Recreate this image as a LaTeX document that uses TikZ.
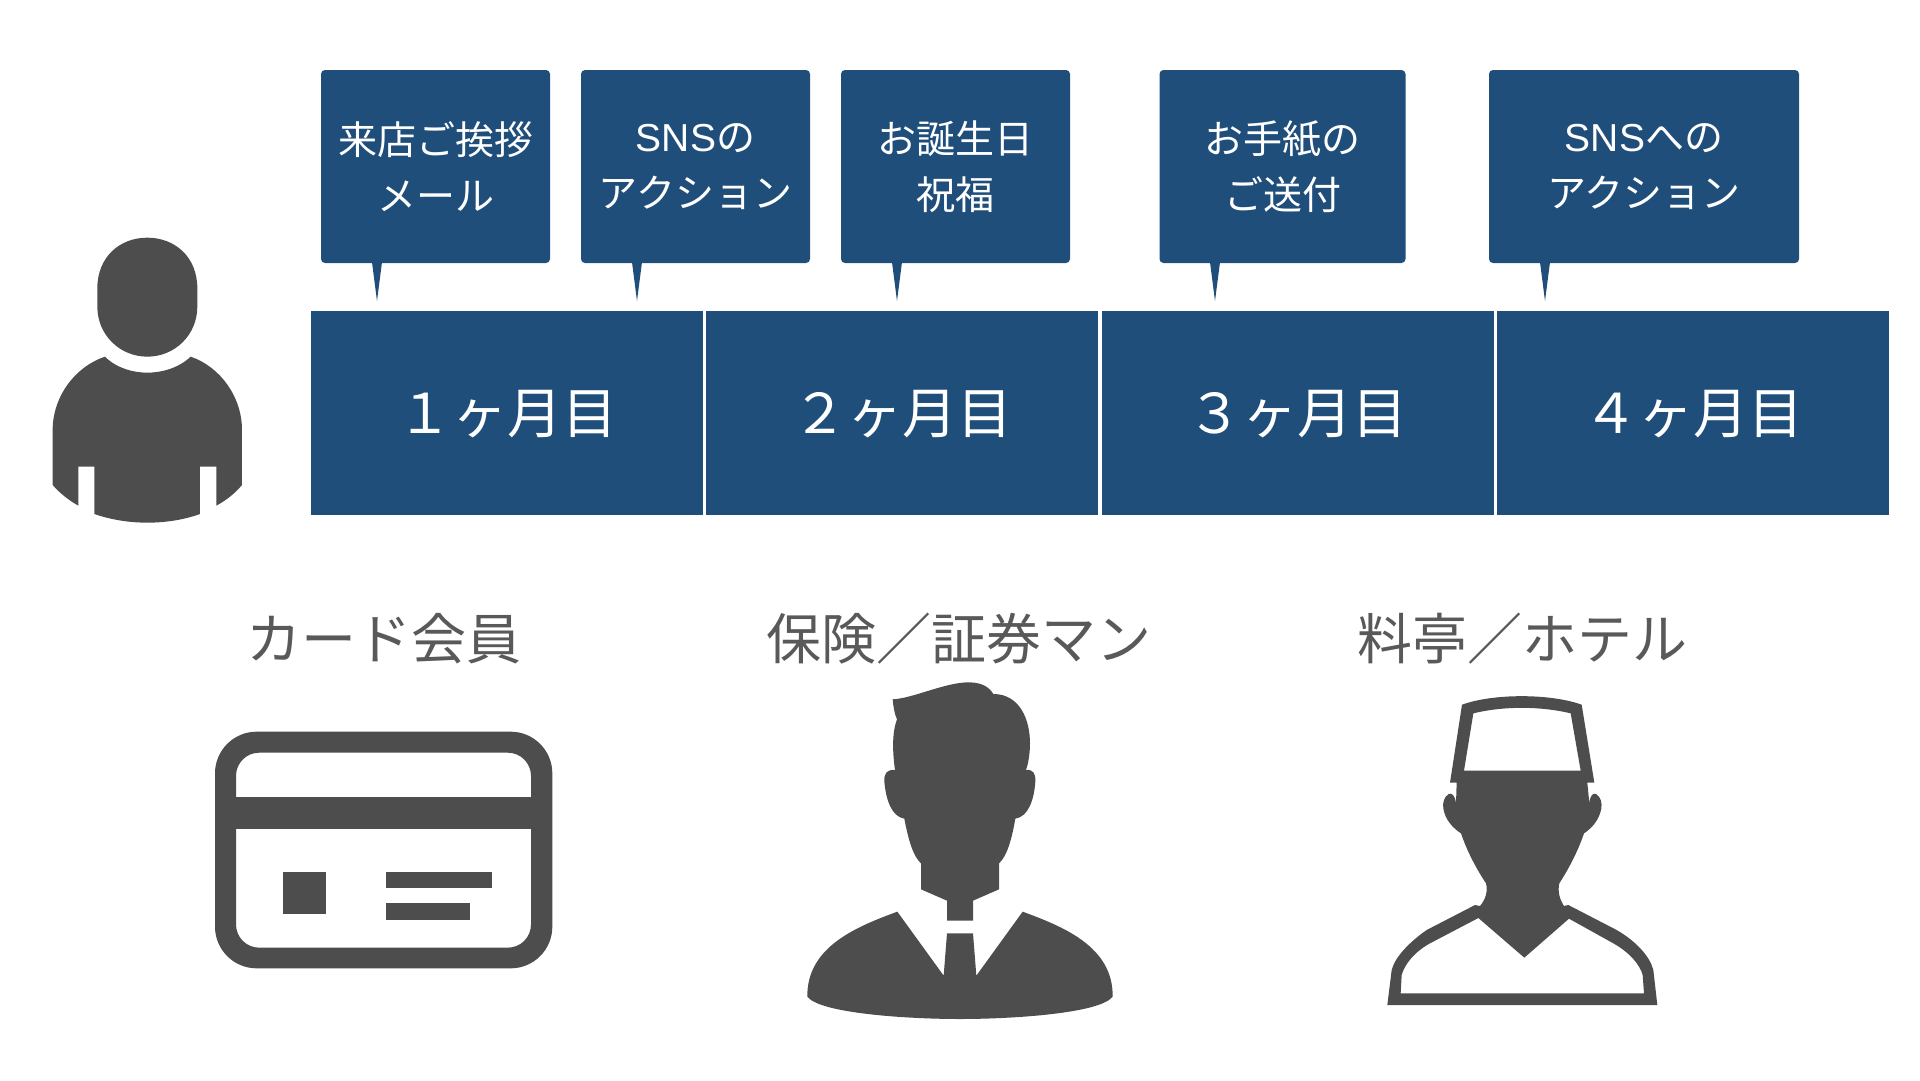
\documentclass[tikz,border=0pt]{standalone}
\usepackage{fontspec}
\setmainfont{Noto Sans CJK JP}
\newfontfamily\latinfont{Liberation Sans}
\usepackage{tikz}
\usetikzlibrary{positioning}
\definecolor{navy}{HTML}{1F4E7B}
\definecolor{icongray}{HTML}{4D4D4D}
\definecolor{labelgray}{HTML}{595959}
\tikzset{
  monthbar/.style={fill=navy,text=white,minimum width=392pt,minimum height=204pt,inner sep=0pt,
    text height=40pt,text depth=0pt,font=\fontsize{55}{60}\selectfont},
  bubble/.style={fill=navy,text=white,rounded corners=4pt,minimum height=193pt,inner sep=0pt,
    align=center,font=\fontsize{39}{56.5}\selectfont},
  tail/.style={fill=navy},
  grouplabel/.style={text=labelgray,inner sep=0pt,font=\fontsize{55}{60}\selectfont},
  icon/.style={fill=icongray,even odd rule}
}
\begin{document}
\begin{tikzpicture}[x=1pt,y=-1pt]
\useasboundingbox (0,0) rectangle (1920,1080);
% timeline
\node[monthbar] (m1) at (507,413) {１ヶ月目};
\node[monthbar,right=3pt of m1] (m2) {２ヶ月目};
\node[monthbar,right=3pt of m2] (m3) {３ヶ月目};
\node[monthbar,right=3pt of m3] (m4) {４ヶ月目};
% bubbles
\node[bubble,minimum width=229pt] (bubble1) at (435.5,166.5) {来店ご挨拶\\メール};
\node[bubble,minimum width=229pt] (bubble2) at (695.5,166.5) {{\latinfont SNS}の\\アクション};
\node[bubble,minimum width=229pt] (bubble3) at (955.5,166.5) {お誕生日\\祝福};
\node[bubble,minimum width=246pt] (bubble4) at (1282.5,166.5) {お手紙の\\ご送付};
\node[bubble,minimum width=310pt] (bubble5) at (1644,166.5) {{\latinfont SNS}への\\アクション};
\foreach \i/\tipx in {1/377,2/637,3/897,4/1215,5/1545} {
  \coordinate (tip\i) at (\tipx,301);
  \coordinate (base\i) at (tip\i|-bubble\i.south);
  \fill[tail] ([xshift=-5pt,yshift=1pt]base\i) -- (tip\i) -- ([xshift=5pt,yshift=1pt]base\i) -- cycle;
}
% labels
\node[grouplabel] (card label) at (384,639) {カード会員};
\node[grouplabel] (broker label) at (958.5,639) {保険／証券マン};
\node[grouplabel] (ryotei label) at (1522.5,639) {料亭／ホテル};
% customer
\begin{scope}[shift={(0,200)},scale=1/3]
\fill[icon] (292,265) .. controls (292,170) and (360,113) .. (442,113)
  .. controls (524,113) and (592,170) .. (592,265) -- (592,320)
  .. controls (592,405) and (524,470) .. (442,470)
  .. controls (360,470) and (292,405) .. (292,320) -- cycle;
\fill[icon] (315,470) .. controls (350,505) and (400,518) .. (442,518)
  .. controls (484,518) and (535,505) .. (572,470)
  .. controls (660,500) and (726,590) .. (726,690) -- (726,855)
  .. controls (705,880) and (680,900) .. (649,917) -- (649,800) -- (600,800) -- (600,942)
  .. controls (550,960) and (495,968) .. (442,968)
  .. controls (390,968) and (335,960) .. (283,942) -- (283,800) -- (235,800) -- (235,917)
  .. controls (205,900) and (180,880) .. (158,855) -- (158,690)
  .. controls (158,590) and (225,500) .. (315,470) -- cycle;
\end{scope}
% card
\begin{scope}[shift={(200,720)},scale=1/3]
\fill[icon] (170,35) -- (932,35) .. controls (1001,35) and (1057,91) .. (1057,160) -- (1057,620)
  .. controls (1057,689) and (1001,745) .. (932,745) -- (170,745)
  .. controls (101,745) and (45,689) .. (45,620) -- (45,160)
  .. controls (45,91) and (101,35) .. (170,35) -- cycle
  (178,98) .. controls (139,98) and (108,129) .. (108,168) -- (108,613)
  .. controls (108,652) and (139,683) .. (178,683) -- (923,683)
  .. controls (962,683) and (993,652) .. (993,613) -- (993,168)
  .. controls (993,129) and (962,98) .. (923,98) -- cycle;
\fill[icon] (100,232) rectangle (1000,327);
\fill[icon] (250,455) rectangle (377,583);
\fill[icon] (558,455) rectangle (875,505);
\fill[icon] (558,550) rectangle (811,600);
\end{scope}
% broker
\begin{scope}[shift={(780,670)},scale=1/3]
\fill[icon] (338,88) .. controls (400,85) and (500,35) .. (570,37)
  .. controls (610,38) and (630,55) .. (640,72)
  .. controls (720,72) and (750,150) .. (750,220)
  .. controls (750,250) and (745,280) .. (738,300)
  .. controls (760,298) and (767,310) .. (766,335)
  .. controls (762,390) and (745,440) .. (706,446)
  .. controls (695,510) and (680,560) .. (657,580)
  -- (657,658) -- (579,692) -- (579,752) -- (501,752) -- (501,692) -- (423,658) -- (423,580)
  .. controls (400,560) and (385,510) .. (373,446)
  .. controls (335,440) and (318,390) .. (313,335)
  .. controls (312,310) and (320,298) .. (345,300)
  .. controls (338,250) and (335,190) .. (351,148)
  .. controls (343,130) and (340,110) .. (338,88) -- cycle;
\fill[icon] (352,725) -- (491,917) -- (501,790) -- (579,790) -- (589,917) -- (728,725)
  .. controls (850,770) and (1000,830) .. (998,980)
  .. controls (960,1030) and (700,1047) .. (540,1047)
  .. controls (380,1047) and (120,1030) .. (82,980)
  .. controls (80,830) and (230,770) .. (352,725) -- cycle;
\end{scope}
% chef
\begin{scope}[shift={(1360,680)},scale=1/3]
\fill[icon] (306,74) .. controls (400,40) and (570,40) .. (665,74) -- (703,308) -- (682,308) -- (688,370)
  .. controls (690,345) and (700,338) .. (708,342)
  .. controls (722,350) and (727,370) .. (724,385)
  .. controls (718,420) and (695,445) .. (672,460)
  .. controls (655,510) and (630,560) .. (598,610)
  .. controls (592,635) and (600,660) .. (612,678) -- (625,675) -- (770,750)
  .. controls (830,785) and (870,830) .. (880,870) -- (892,975) -- (82,975) -- (95,870)
  .. controls (105,830) and (150,785) .. (200,750) -- (345,675) -- (360,678)
  .. controls (375,660) and (385,635) .. (378,610)
  .. controls (345,560) and (320,510) .. (303,460)
  .. controls (280,445) and (255,420) .. (250,385)
  .. controls (247,370) and (252,350) .. (266,342)
  .. controls (275,338) and (285,345) .. (288,370) -- (290,308) -- (270,308) -- cycle
  (340,100) .. controls (430,78) and (540,78) .. (632,100) -- (662,272) -- (312,272) -- cycle
  (355,714) -- (493,833) -- (627,716) -- (760,790)
  .. controls (810,818) and (840,855) .. (848,885) -- (852,940) -- (122,940) -- (125,885)
  .. controls (135,850) and (165,815) .. (210,790) -- cycle;
\end{scope}
\end{tikzpicture}
\end{document}
